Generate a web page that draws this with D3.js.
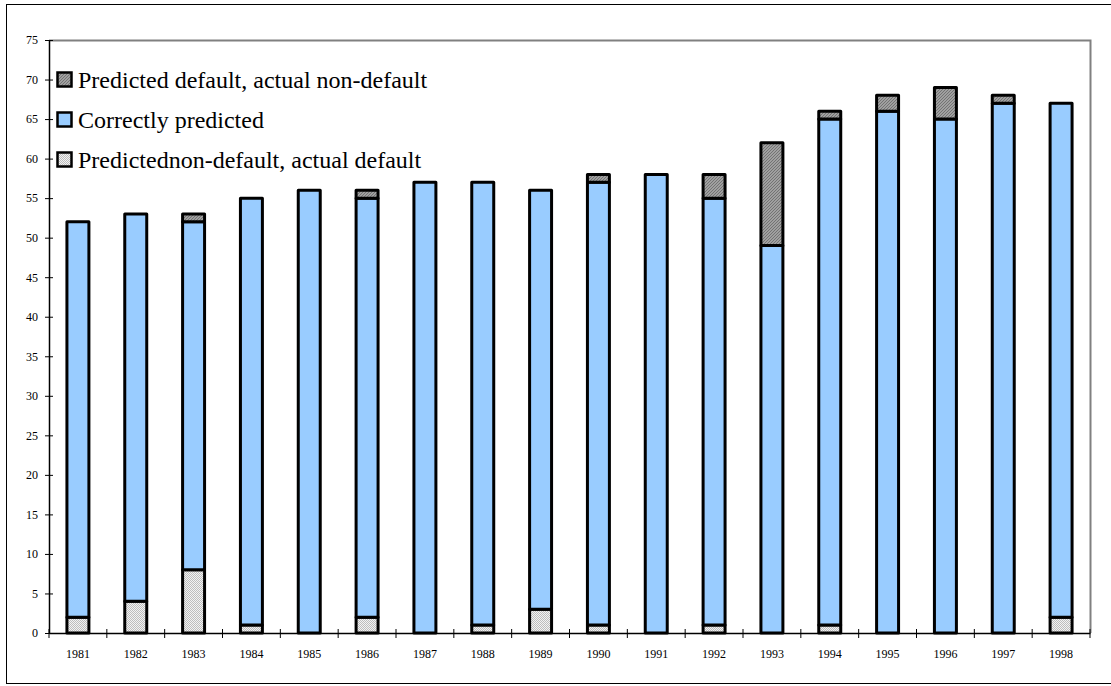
<!DOCTYPE html>
<html>
<head>
<meta charset="utf-8">
<script src="https://cdn.jsdelivr.net/npm/d3@7"></script>
<style>
html,body{margin:0;padding:0;background:#fff;}
svg{display:block;}
</style>
</head>
<body>
<svg id="chart" width="1111" height="686"></svg>
<script>
const years = ["1981","1982","1983","1984","1985","1986","1987","1988","1989","1990","1991","1992","1993","1994","1995","1996","1997","1998"];
const predNonDefaultActualDefault = [2,4,8,1,0,2,0,1,3,1,0,1,0,1,0,0,0,2];
const correctlyPredicted = [50,49,44,54,56,53,57,56,53,56,58,54,49,64,66,65,67,65];
const predDefaultActualNonDefault = [0,0,1,0,0,1,0,0,0,1,0,3,13,1,2,4,1,0];
const yTicks = [0,5,10,15,20,25,30,35,40,45,50,55,60,65,70,75];
const seriesNames = ["Predictednon-default, actual default","Correctly predicted","Predicted default, actual non-default"];

(function(){
const svg = d3.select("#chart");
const defs = svg.append("defs");

// light checker pattern
const pl = defs.append("pattern").attr("id","pLight").attr("patternUnits","userSpaceOnUse").attr("width",2).attr("height",2);
pl.append("rect").attr("width",2).attr("height",2).attr("fill","#f2f2f2");
pl.append("rect").attr("width",1).attr("height",1).attr("fill","#bdbdbd");
pl.append("rect").attr("x",1).attr("y",1).attr("width",1).attr("height",1).attr("fill","#bdbdbd");

// dark hatched pattern
const pd = defs.append("pattern").attr("id","pDark").attr("patternUnits","userSpaceOnUse").attr("width",3).attr("height",3);
pd.append("rect").attr("width",3).attr("height",3).attr("fill","#a0a0a0");
pd.append("path").attr("d","M0,3 L3,0 M-1,1 L1,-1 M2,4 L4,2").attr("stroke","#737373").attr("stroke-width",1);

const fills = ["url(#pLight)","#99ccff","url(#pDark)"];

// outer frame
svg.append("rect").attr("x",6.5).attr("y",4.5).attr("width",1110).attr("height",679)
  .attr("fill","none").attr("stroke","#000").attr("stroke-width",1);

const pLeft = 49, pRight = 1090, pTop = 40, pBottom = 633;

const x = d3.scaleBand().domain(years).range([pLeft,pRight]).padding(0);
const y = d3.scaleLinear().domain([0,75]).range([pBottom,pTop]);

// plot frame (top and right, gray)
svg.append("path").attr("d",`M${pLeft},${pTop+0.5}H${pRight+0.5}V${pBottom}`)
  .attr("fill","none").attr("stroke","#808080").attr("stroke-width",2);

const data = years.map((yr,i)=>({year:yr, a:predNonDefaultActualDefault[i], b:correctlyPredicted[i], c:predDefaultActualNonDefault[i]}));
const stacked = d3.stack().keys(["a","b","c"])(data);

const bw = x.bandwidth()*0.38;
const g = svg.append("g");
stacked.forEach((s,si)=>{
  g.selectAll(null).data(s).enter().append("rect")
    .attr("x",d=>x(d.data.year)+x.bandwidth()/2-bw/2)
    .attr("y",d=>y(d[1]))
    .attr("width",bw)
    .attr("height",d=>y(d[0])-y(d[1]))
    .attr("fill",fills[si])
    .attr("stroke","#000")
    .attr("stroke-width",3)
    .attr("stroke-linejoin","round");
});

// Y axis
const yAxis = d3.axisLeft(y).tickValues(yTicks).tickSize(0).tickPadding(11);
const yg = svg.append("g").attr("transform",`translate(${pLeft},0)`).call(yAxis);
yg.select(".domain").attr("stroke","#000").attr("stroke-width",1.5);
yg.selectAll(".tick text").attr("font-family","Liberation Serif, Times New Roman, serif").attr("font-size",12).attr("fill","#000");
yg.selectAll(".tick").append("line").attr("x1",-4).attr("x2",4).attr("stroke","#000").attr("stroke-width",1);

// X axis
const xAxis = d3.axisBottom(x).tickSize(0).tickPadding(16);
const xg = svg.append("g").attr("transform",`translate(0,${pBottom})`).call(xAxis);
xg.select(".domain").attr("stroke","#000").attr("stroke-width",1.5);
xg.selectAll(".tick text").attr("font-family","Liberation Serif, Times New Roman, serif").attr("font-size",12).attr("fill","#000");
const bounds = years.map(d=>x(d)).concat([pRight]);
xg.selectAll(".btick").data(bounds).enter().append("line")
  .attr("x1",d=>d).attr("x2",d=>d).attr("y1",-4).attr("y2",5)
  .attr("stroke","#000").attr("stroke-width",1);

// Legend
const legendItems = [
  {name:seriesNames[2], fill:fills[2]},
  {name:seriesNames[1], fill:fills[1]},
  {name:seriesNames[0], fill:fills[0]}
];
const lg = svg.append("g");
legendItems.forEach((it,i)=>{
  const cy = 80 + i*40;
  lg.append("rect").attr("x",57.5).attr("y",cy-7.5).attr("width",14).attr("height",14)
    .attr("fill",it.fill).attr("stroke","#000").attr("stroke-width",2.5);
  lg.append("text").attr("x",78).attr("y",cy+8)
    .attr("font-family","Liberation Serif, Times New Roman, serif").attr("font-size",24)
    .attr("fill","#000").text(it.name);
});
})();
</script>
</body>
</html>
